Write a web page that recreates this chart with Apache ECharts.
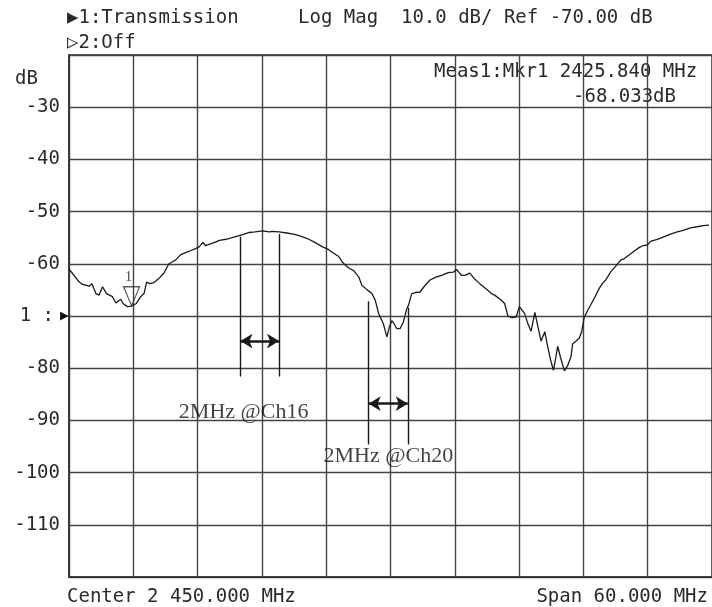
<!DOCTYPE html>
<html>
<head>
<meta charset="utf-8">
<script src="https://cdn.jsdelivr.net/npm/echarts@6/dist/echarts.min.js"></script>
<style>
  html, body { margin: 0; padding: 0; background: #fff; }
  #chart { width: 712px; height: 607px; }
</style>
</head>
<body>
<div id="chart"></div>
<script>
// trace (MHz / dB)
var freq = [
  2420.0, 2420.96, 2421.21, 2421.89, 2422.14, 2422.51, 2422.81, 2423.13, 2423.5, 2424.06,
  2424.37, 2424.83, 2425.04, 2425.45, 2425.84, 2426.29, 2426.69, 2427.0, 2427.24, 2427.55,
  2427.92, 2428.39, 2428.85, 2429.32, 2429.66, 2429.94, 2430.4, 2430.93, 2431.33, 2431.86,
  2432.17, 2432.49, 2432.73, 2433.72, 2434.03, 2434.65, 2435.23, 2435.88, 2436.35, 2436.81,
  2437.37, 2438.05, 2438.67, 2438.98, 2439.6, 2440.34, 2441.15, 2441.73, 2442.38, 2442.94,
  2443.62, 2444.24, 2444.55, 2445.17, 2445.48, 2445.79, 2446.1, 2446.56, 2447.03, 2447.33,
  2447.77, 2448.26, 2448.58, 2448.89, 2449.04, 2449.35, 2449.66, 2449.91, 2450.12, 2450.28,
  2450.58, 2450.9, 2451.21, 2451.37, 2451.52, 2451.67, 2451.98, 2452.33, 2452.76, 2453.16,
  2453.69, 2454.18, 2454.77, 2455.39, 2455.85, 2456.16, 2456.41, 2456.62, 2456.94, 2457.4,
  2457.8, 2458.33, 2458.91, 2459.41, 2459.72, 2460.34, 2460.65, 2460.96, 2461.33, 2461.73,
  2462.03, 2462.51, 2462.82, 2463.12, 2463.47, 2463.75, 2464.05, 2464.4, 2464.67, 2464.95,
  2465.21, 2465.42, 2465.6, 2465.85, 2466.23, 2466.53, 2466.84, 2467.0, 2467.28, 2467.62,
  2467.84, 2468.07, 2468.39, 2468.7, 2469.04, 2469.48, 2469.79, 2470.09, 2470.56, 2471.0,
  2471.48, 2471.83, 2472.26, 2472.66, 2473.19, 2473.59, 2473.96, 2474.27, 2474.89, 2475.45,
  2476.13, 2476.75, 2477.31, 2477.99, 2478.61, 2479.17, 2479.72
];
var level = [
  -61.0, -63.5, -63.9, -64.3, -63.8, -65.7, -66.0, -64.4, -65.7, -66.3,
  -67.5, -66.8, -67.6, -68.2, -68.1, -67.6, -66.3, -65.7, -63.5, -63.8,
  -63.6, -62.8, -61.8, -60.0, -59.6, -59.3, -58.3, -57.8, -57.5, -57.05,
  -56.7, -55.9, -56.5, -55.8, -55.5, -55.3, -55.0, -54.6, -54.3, -54.0,
  -53.9, -53.7, -53.9, -53.8, -53.9, -54.1, -54.4, -54.8, -55.3, -55.9,
  -56.7, -57.3, -57.8, -58.6, -59.6, -60.25, -60.8, -61.3, -62.5, -64.1,
  -64.9, -65.7, -67.0, -69.5, -70.2, -71.6, -74.0, -72.0, -70.9, -71.3,
  -72.4, -72.4, -71.1, -69.8, -68.6, -68.0, -65.7, -65.5, -65.4, -64.3,
  -63.1, -62.6, -62.2, -61.7, -61.6, -61.1, -61.7, -62.2, -62.2, -61.8,
  -62.8, -63.8, -64.8, -65.7, -66.0, -67.0, -67.6, -70.0, -70.3, -70.2,
  -68.2, -69.5, -71.5, -72.9, -69.3, -72.0, -74.8, -73.0, -75.9, -78.5,
  -80.4, -78.0, -75.8, -77.8, -80.5, -79.5, -77.8, -75.3, -74.9, -74.2,
  -73.0, -70.3, -69.0, -67.8, -66.5, -64.7, -63.7, -63.1, -61.5, -60.5,
  -59.3, -59.0, -58.3, -57.7, -56.9, -56.5, -56.4, -55.7, -55.3, -54.9,
  -54.3, -53.9, -53.6, -53.1, -52.9, -52.7, -52.6
];

var marker = [2425.84, -68.033];

// 2 MHz channel brackets: [left f, right f, top dB left, top dB right, bottom dB, arrow dB]
var ch16 = [2436.0, 2439.6, -54.8, -54.3, -81.6, -74.8];
var ch20 = [2447.96, 2451.61, -67.2, -68.4, -94.6, -86.8];
var notes = [
  { name: '2MHz @Ch16', value: [2436.3, -88.5] },
  { name: '2MHz @Ch20', value: [2449.8, -96.9] }
];

var yTicks = { '-30': '-30', '-40': '-40', '-50': '-50', '-60': '-60', '-80': '-80',
  '-90': '-90', '-100': '-100', '-110': '-110' };

var mono = 'DejaVu Sans Mono';
var ink = '#2a2a2a';

var trace = [];
for (var i = 0; i < freq.length; i++) trace.push([freq[i], level[i]]);

function bracketLines(c) {
  return [
    [{ coord: [c[0], c[2]] }, { coord: [c[0], c[4]] }],
    [{ coord: [c[1], c[3]] }, { coord: [c[1], c[4]] }]
  ];
}
function bracketArrow(c) {
  return [[{ coord: [c[0], c[5]] }, { coord: [c[1], c[5]] }]];
}

var myChart = echarts.init(document.getElementById('chart'));

function txt(s, x, y, align) {
  return {
    type: 'text', x: x, y: y, silent: true,
    style: { text: s, font: '19px "' + mono + '"', fill: ink, align: align || 'left', verticalAlign: 'middle' }
  };
}

var option = {
  animation: false,
  backgroundColor: '#fff',
  grid: {
    left: 69, right: -3, top: 55, bottom: 30,
    show: true, borderColor: '#333', borderWidth: 1.5
  },
  xAxis: {
    type: 'value', min: 2420, max: 2480, interval: 6,
    axisLine: { show: true, lineStyle: { color: '#333', width: 1.5 } },
    axisTick: { show: false },
    axisLabel: { show: false },
    splitLine: { show: true, lineStyle: { color: '#444', width: 1.4 } }
  },
  yAxis: {
    type: 'value', min: -120, max: -20, interval: 10,
    axisLine: { show: true, lineStyle: { color: '#333', width: 1.5 } },
    axisTick: { show: false },
    splitLine: { show: true, lineStyle: { color: '#444', width: 1.4 } },
    axisLabel: {
      margin: 0,
      formatter: function (v) {
        if (v === -70) return '{n|1 :}{t|▶}';
        var s = yTicks[String(v)];
        return s ? '{v|' + s + '}' : '';
      },
      rich: {
        v: { fontFamily: mono, fontSize: 19, color: ink, padding: [0, 9, 0, 0] },
        n: { fontFamily: mono, fontSize: 19, color: ink, padding: [0, 6, 0, 0] },
        t: { fontFamily: mono, fontSize: 15, color: '#111', padding: [0, 0, 0, 0] }
      }
    }
  },
  graphic: [
    txt('▶1:Transmission', 67, 18),
    txt('Log Mag  10.0 dB/ Ref -70.00 dB', 298, 18),
    txt('▷2:Off', 67, 43),
    txt('dB', 15, 79),
    txt('Meas1:Mkr1 2425.840 MHz', 434, 72),
    txt('-68.033dB', 573, 97),
    txt('Center 2 450.000 MHz', 67, 597),
    txt('Span 60.000 MHz', 708, 597, 'right')
  ],
  series: [
    {
      name: 'Transmission',
      type: 'line',
      data: trace,
      showSymbol: false,
      symbol: 'none',
      lineStyle: { color: '#1a1a1a', width: 1.3 },
      z: 5
    },
    {
      name: 'Mkr1',
      type: 'scatter',
      data: [marker],
      symbol: 'path://M0,0 L10,0 L5,12 Z',
      symbolKeepAspect: false,
      symbolSize: [16, 19],
      symbolOffset: [0, -9.5],
      itemStyle: { color: 'rgba(255,255,255,0)', borderColor: '#333', borderWidth: 1.3 },
      label: {
        show: true, position: 'top', distance: 1, offset: [-3, 0],
        formatter: '1', fontFamily: 'Liberation Serif', fontSize: 15, color: '#222'
      },
      z: 6
    },
    {
      name: 'brackets',
      type: 'line',
      data: [],
      markLine: {
        silent: true, symbol: 'none', animation: false,
        label: { show: false },
        lineStyle: { color: '#1a1a1a', width: 1.4, type: 'solid' },
        data: bracketLines(ch16).concat(bracketLines(ch20))
      }
    },
    {
      name: 'arrows',
      type: 'line',
      data: [],
      markLine: {
        silent: true, symbol: ['arrow', 'arrow'], symbolSize: [11, 12], animation: false,
        label: { show: false },
        lineStyle: { color: '#1a1a1a', width: 2.6, type: 'solid' },
        data: bracketArrow(ch16).concat(bracketArrow(ch20))
      }
    },
    {
      name: 'notes',
      type: 'scatter',
      data: notes,
      symbolSize: 0,
      silent: true,
      label: {
        show: true, position: 'inside', formatter: '{b}',
        fontFamily: 'Liberation Serif', fontSize: 22, color: '#111'
      }
    }
  ]
};
myChart.setOption(option);
</script>
</body>
</html>
